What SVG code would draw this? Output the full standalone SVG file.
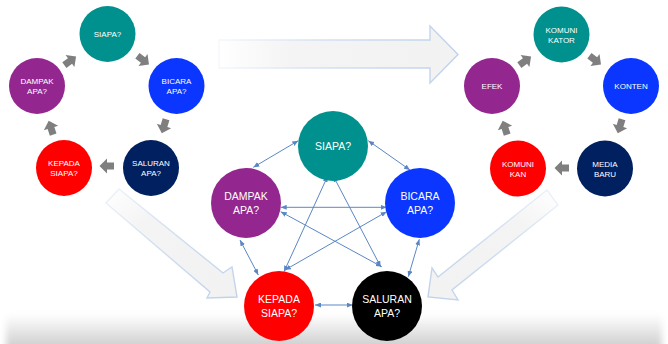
<svg xmlns="http://www.w3.org/2000/svg" width="668" height="344" viewBox="0 0 668 344">
  <style>
    .lbl { font-family: "Liberation Sans", Arial, sans-serif; fill: #ffffff; text-anchor: middle; }
    .sm { font-size: 8px; }
    .lg { font-size: 10.5px; }
    .teal { fill: #00918e; }
    .blue { fill: #0a36ff; }
    .purple { fill: #93278f; }
    .red { fill: #ff0000; }
    .navy { fill: #002060; }
    .black { fill: #000000; }
    .link { stroke: #5a87c4; stroke-width: 1; fill: none; marker-start: url(#tip); marker-end: url(#tip); }
    .step { fill: #7f7f7f; }
    .flow { stroke-width: 1.4; stroke-linejoin: miter; }
  </style>
  <defs>
    <marker id="tip" viewBox="0 0 6 5" refX="6" refY="2.5" markerWidth="6" markerHeight="5" markerUnits="userSpaceOnUse" orient="auto-start-reverse">
      <path d="M0,0 L6,2.5 L0,5 Z" fill="#5a87c4"/>
    </marker>
    <path id="step" d="M-7,-3.5 H0 V-7.5 L7.5,0 L0,7.5 V3.5 H-7 Z"/>
    <linearGradient id="shadeBand" x1="0" y1="0" x2="0" y2="1">
      <stop offset="0" stop-color="#ffffff"/>
      <stop offset="1" stop-color="#c4c4c4"/>
    </linearGradient>
    <filter id="soft" x="-5%" y="-30%" width="110%" height="160%">
      <feGaussianBlur stdDeviation="3"/>
    </filter>
    <linearGradient id="fillH" x1="0" y1="0" x2="1" y2="0">
      <stop offset="0" stop-color="#ffffff"/>
      <stop offset="0.3" stop-color="#f4f4f4"/>
      <stop offset="1" stop-color="#f2f2f2"/>
    </linearGradient>
    <linearGradient id="strokeH" x1="0" y1="0" x2="1" y2="0">
      <stop offset="0" stop-color="#f4f7fb"/>
      <stop offset="0.4" stop-color="#d6e2f2"/>
      <stop offset="1" stop-color="#bfd2ea"/>
    </linearGradient>
    <linearGradient id="fillDL" x1="0" y1="0" x2="1" y2="1">
      <stop offset="0" stop-color="#ffffff"/>
      <stop offset="0.3" stop-color="#f4f4f4"/>
      <stop offset="1" stop-color="#f2f2f2"/>
    </linearGradient>
    <linearGradient id="strokeDL" x1="0" y1="0" x2="1" y2="1">
      <stop offset="0" stop-color="#eef3f9"/>
      <stop offset="0.4" stop-color="#d3e0f1"/>
      <stop offset="1" stop-color="#bfd2ea"/>
    </linearGradient>
    <linearGradient id="fillDR" x1="1" y1="0" x2="0" y2="1">
      <stop offset="0" stop-color="#ffffff"/>
      <stop offset="0.3" stop-color="#f4f4f4"/>
      <stop offset="1" stop-color="#f2f2f2"/>
    </linearGradient>
    <linearGradient id="strokeDR" x1="1" y1="0" x2="0" y2="1">
      <stop offset="0" stop-color="#eef3f9"/>
      <stop offset="0.4" stop-color="#d3e0f1"/>
      <stop offset="1" stop-color="#bfd2ea"/>
    </linearGradient>
  </defs>

  <rect width="668" height="344" fill="#ffffff"/>

  <!-- soft floor shade along the bottom edge -->
  <rect x="6" y="314" width="656" height="40" fill="url(#shadeBand)" filter="url(#soft)"/>

  <!-- wide hollow flow arrows -->
  <g id="flow-arrows">
    <path class="flow" d="M219,40 H430 V26 L458,54.5 L430,83 V68 H219 Z" fill="url(#fillH)" stroke="url(#strokeH)"/>
    <path class="flow" d="M119,189 L223,273 L232,267 L237,297 L207,298 L210,292 L106,203 Z" fill="url(#fillDL)" stroke="url(#strokeDL)"/>
    <path class="flow" d="M547,190 L558,205 L452,290 L458,300 L428,297 L432,268 L438,277 Z" fill="url(#fillDR)" stroke="url(#strokeDR)"/>
  </g>

  <!-- connectors: cycle steps and network links -->
  <g id="connectors">
    <g class="step">
      <use href="#step" transform="translate(143,60) rotate(37)"/>
      <use href="#step" transform="translate(164,126) rotate(107)"/>
      <use href="#step" transform="translate(107,166) rotate(180)"/>
      <use href="#step" transform="translate(51,128) rotate(252)"/>
      <use href="#step" transform="translate(70,61) rotate(-36)"/>
      <use href="#step" transform="translate(595,60) rotate(37)"/>
      <use href="#step" transform="translate(620,126) rotate(107)"/>
      <use href="#step" transform="translate(562,168) rotate(180)"/>
      <use href="#step" transform="translate(505,128) rotate(252)"/>
      <use href="#step" transform="translate(525,61) rotate(-36)"/>
    </g>
    <line class="link" x1="298.3" y1="140.7" x2="253.3" y2="167.3"/>
    <line class="link" x1="368.3" y1="140.7" x2="410" y2="170"/>
    <line class="link" x1="280.7" y1="207.3" x2="386.7" y2="207.3"/>
    <line class="link" x1="280.7" y1="211.7" x2="381.7" y2="266.7"/>
    <line class="link" x1="386.7" y1="211.7" x2="285" y2="270"/>
    <line class="link" x1="327.7" y1="176" x2="284" y2="271.7"/>
    <line class="link" x1="333.3" y1="176" x2="380.7" y2="266.7"/>
    <line class="link" x1="240" y1="240" x2="258.3" y2="275"/>
    <line class="link" x1="419.3" y1="239.3" x2="408.3" y2="276.7"/>
    <line class="link" x1="315" y1="305" x2="352.7" y2="305"/>
  </g>

  <!-- left cycle -->
  <g id="l-siapa"><circle class="teal" cx="107.5" cy="34" r="28"/><text class="lbl sm" x="107.5" y="37">SIAPA?</text></g>
  <g id="l-bicara"><circle class="blue" cx="176.5" cy="86" r="28"/><text class="lbl sm" x="176.5" y="84">BICARA</text><text class="lbl sm" x="176.5" y="94">APA?</text></g>
  <g id="l-dampak"><circle class="purple" cx="37" cy="86" r="28"/><text class="lbl sm" x="37" y="84">DAMPAK</text><text class="lbl sm" x="37" y="94">APA?</text></g>
  <g id="l-kepada"><circle class="red" cx="64" cy="168" r="28"/><text class="lbl sm" x="64" y="166">KEPADA</text><text class="lbl sm" x="64" y="176">SIAPA?</text></g>
  <g id="l-saluran"><circle class="navy" cx="151" cy="168" r="28"/><text class="lbl sm" x="151" y="166">SALURAN</text><text class="lbl sm" x="151" y="176">APA?</text></g>

  <!-- right cycle -->
  <g id="r-komunikator"><circle class="teal" cx="561.5" cy="34.5" r="28"/><text class="lbl sm" x="561.5" y="32.5">KOMUNI</text><text class="lbl sm" x="561.5" y="42.5">KATOR</text></g>
  <g id="r-konten"><circle class="blue" cx="631" cy="86" r="28"/><text class="lbl sm" x="631" y="89">KONTEN</text></g>
  <g id="r-efek"><circle class="purple" cx="492" cy="86" r="28"/><text class="lbl sm" x="492" y="89">EFEK</text></g>
  <g id="r-komunikan"><circle class="red" cx="518" cy="168.5" r="28"/><text class="lbl sm" x="518" y="166.5">KOMUNI</text><text class="lbl sm" x="518" y="176.5">KAN</text></g>
  <g id="r-media"><circle class="navy" cx="605" cy="168.5" r="28"/><text class="lbl sm" x="605" y="166.5">MEDIA</text><text class="lbl sm" x="605" y="176.5">BARU</text></g>

  <!-- central network -->
  <g id="c-siapa"><circle class="teal" cx="333" cy="146" r="35"/><text class="lbl lg" x="333" y="150">SIAPA?</text></g>
  <g id="c-dampak"><circle class="purple" cx="246" cy="203" r="35"/><text class="lbl lg" x="246" y="200">DAMPAK</text><text class="lbl lg" x="246" y="214">APA?</text></g>
  <g id="c-bicara"><circle class="blue" cx="420" cy="203" r="35"/><text class="lbl lg" x="420" y="200">BICARA</text><text class="lbl lg" x="420" y="214">APA?</text></g>
  <g id="c-kepada"><circle class="red" cx="279" cy="306" r="35"/><text class="lbl lg" x="279" y="303">KEPADA</text><text class="lbl lg" x="279" y="317">SIAPA?</text></g>
  <g id="c-saluran"><circle class="black" cx="387" cy="306" r="35"/><text class="lbl lg" x="387" y="303">SALURAN</text><text class="lbl lg" x="387" y="317">APA?</text></g>
</svg>
